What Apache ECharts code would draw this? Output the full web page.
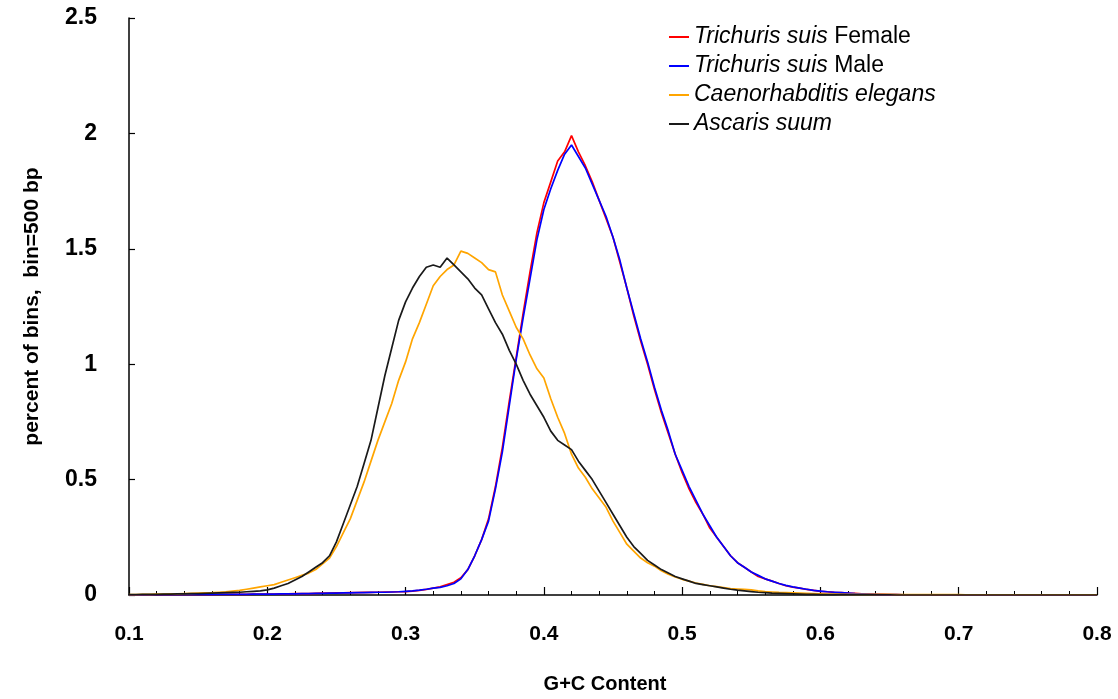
<!DOCTYPE html>
<html>
<head>
<meta charset="utf-8">
<script src="https://cdn.jsdelivr.net/npm/echarts@6/dist/echarts.min.js"></script>
<style>
html,body{margin:0;padding:0;background:#fff;}
#chart{width:1118px;height:699px;}
</style>
</head>
<body>
<div id="chart"></div>
<script>
// G+C content bins (bin start 0.1, width 0.005, 141 bins up to 0.8)
const binStart = 0.1;
const binStep = 0.005;
const binCount = 141;

const seriesNames = ['Trichuris suis Female', 'Trichuris suis Male', 'Caenorhabditis elegans', 'Ascaris suum'];
const xTicks = [0.1, 0.2, 0.3, 0.4, 0.5, 0.6, 0.7, 0.8];
const yTicks = [0, 0.5, 1, 1.5, 2, 2.5];

const tsFemale = [
  0,0,0,0.001,0.001,0.001,0.001,0.001,0.002,0.002,0.002,
  0.002,0.002,0.003,0.003,0.003,0.003,0.003,0.004,0.004,0.004,
  0.004,0.005,0.005,0.006,0.006,0.006,0.007,0.008,0.008,0.009,0.009,0.010,0.010,0.011,0.011,0.012,0.013,0.013,0.014,0.015,
  0.017,0.02,0.024,0.03,0.035,0.045,0.055,0.075,0.11,0.17,0.24,0.33,0.47,0.64,0.84,1.03,1.22,1.40,1.57,1.70,
  1.79,1.88,1.92,1.99,1.92,1.86,1.79,1.71,1.63,1.55,1.44,1.33,1.21,1.10,1.00,0.89,0.79,0.70,0.61,0.53,
  0.46,0.40,0.35,0.29,0.25,0.21,0.17,0.14,0.12,0.10,0.08,0.07,0.06,0.05,0.04,0.034,0.03,0.024,0.02,0.016,
  0.014,0.011,0.01,0.008,0.007,0.005,0.004,0.003,0.003,0.002,0.002,0.001,0.001,0.001,0.001,0.001,0,0,0,0,
  0,0,0,0,0,0,0,0,0,0,0,0,0,0,0,0,0,0,0,0
];
const tsMale = [
  0,0,0,0.001,0.001,0.001,0.001,0.001,0.002,0.002,0.002,
  0.002,0.002,0.003,0.003,0.003,0.003,0.003,0.004,0.004,0.004,
  0.004,0.005,0.005,0.005,0.006,0.006,0.007,0.007,0.008,0.008,0.009,0.009,0.010,0.010,0.011,0.012,0.012,0.013,0.014,0.016,
  0.018,0.021,0.025,0.03,0.033,0.04,0.05,0.07,0.11,0.17,0.24,0.32,0.46,0.62,0.82,1.02,1.20,1.37,1.54,1.67,
  1.76,1.84,1.91,1.95,1.90,1.85,1.78,1.71,1.64,1.55,1.45,1.33,1.22,1.11,1.01,0.90,0.80,0.71,0.61,0.54,
  0.47,0.41,0.35,0.30,0.25,0.21,0.17,0.14,0.12,0.10,0.085,0.07,0.06,0.05,0.042,0.035,0.03,0.025,0.02,0.017,
  0.014,0.012,0.01,0.008,0.006,0.005,0.004,0.003,0.002,0.002,0.002,0.001,0.001,0.001,0.001,0.001,0.001,0,0,0,
  0,0,0,0,0,0,0,0,0,0,0,0,0,0,0,0,0,0,0,0
];
const cElegans = [
  0.002,0.002,0.003,0.003,0.004,0.004,0.005,0.005,0.006,0.007,0.008,
  0.009,0.010,0.012,0.014,0.017,0.02,0.025,0.03,0.035,0.04,
  0.045,0.055,0.065,0.075,0.085,0.095,0.11,0.135,0.16,0.21,0.27,0.33,0.41,0.49,0.58,0.67,0.75,0.83,0.93,1.01,
  1.11,1.18,1.26,1.34,1.38,1.41,1.43,1.49,1.48,1.46,1.44,1.41,1.40,1.30,1.23,1.16,1.11,1.04,0.98,0.94,
  0.85,0.77,0.70,0.61,0.55,0.51,0.46,0.42,0.38,0.32,0.27,0.22,0.19,0.16,0.14,0.125,0.105,0.09,0.078,0.068,
  0.06,0.052,0.046,0.04,0.036,0.032,0.028,0.026,0.024,0.022,0.018,0.015,0.013,0.011,0.01,0.009,0.008,0.007,0.006,0.005,
  0.004,0.004,0.003,0.003,0.003,0.003,0.003,0.003,0.003,0.003,0.002,0.002,0.002,0.002,0.002,0.002,0.002,0.002,0.002,0.002,
  0.001,0.001,0.001,0.001,0.001,0.001,0.001,0.001,0.001,0.001,0.001,0.001,0.001,0.001,0.001,0.001,0.001,0.001,0.001,0.001
];
const aSuum = [
  0.002,0.002,0.003,0.003,0.003,0.004,0.004,0.005,0.005,0.006,0.006,
  0.007,0.008,0.009,0.010,0.011,0.012,0.014,0.016,0.018,0.022,
  0.03,0.04,0.05,0.065,0.08,0.10,0.12,0.14,0.17,0.23,0.31,0.39,0.47,0.57,0.67,0.81,0.95,1.07,1.19,1.27,
  1.33,1.38,1.42,1.43,1.42,1.46,1.43,1.40,1.37,1.33,1.30,1.24,1.18,1.13,1.06,1.00,0.93,0.87,0.82,0.77,
  0.71,0.67,0.65,0.63,0.58,0.54,0.50,0.45,0.40,0.35,0.30,0.25,0.21,0.18,0.15,0.13,0.11,0.095,0.08,0.07,
  0.06,0.05,0.045,0.04,0.035,0.03,0.025,0.021,0.018,0.015,0.012,0.01,0.008,0.007,0.006,0.005,0.004,0.003,0.003,0.002,
  0.002,0.002,0.002,0.001,0.001,0.001,0.001,0.001,0.001,0.001,0,0,0,0,0,0,0,0,0,0,
  0,0,0,0,0,0,0,0,0,0,0,0,0,0,0,0,0,0,0,0
];

const gcBins = [];
for (let i = 0; i < binCount; i++) gcBins.push(+(binStart + i * binStep).toFixed(3));

function pairs(vals) { return vals.map((v, i) => [gcBins[i], v]); }

const colors = ['#ff0000', '#0000ff', '#ffa500', '#1a1a1a'];
const valueSets = [tsFemale, tsMale, cElegans, aSuum];

const sans = "'Liberation Sans', Arial, sans-serif";

const chart = echarts.init(document.getElementById('chart'), null, {renderer: 'canvas'});
const option = {
  animation: false,
  backgroundColor: '#fff',
  grid: {left: 129, right: 21, top: 18, bottom: 100, containLabel: false},
  legend: {
    orient: 'vertical',
    left: 664,
    top: 20,
    icon: 'rect',
    itemWidth: 20,
    itemHeight: 2,
    itemGap: 5,
    data: seriesNames,
    formatter: function (name) {
      if (name.indexOf('Trichuris suis ') === 0) return '{i|Trichuris suis} ' + name.slice(15);
      return '{i|' + name + '}';
    },
    textStyle: {
      fontFamily: sans, fontSize: 23, color: '#000', lineHeight: 24,
      rich: {i: {fontStyle: 'italic', fontFamily: sans, fontSize: 23, color: '#000', lineHeight: 24}}
    }
  },
  xAxis: {
    type: 'value',
    min: 0.1, max: 0.8, interval: 0.1,
    name: 'G+C Content',
    nameLocation: 'middle',
    nameGap: 79,
    nameTextStyle: {fontFamily: sans, fontWeight: 'bold', fontSize: 20, color: '#000', padding: [0, 16, 0, 0]},
    axisLine: {show: true, onZero: false, lineStyle: {color: '#000', width: 1.5}},
    axisTick: {show: true, inside: true, length: 8, lineStyle: {color: '#000', width: 1.2}},
    minorTick: {show: true, splitNumber: 5, length: 4, lineStyle: {color: '#000', width: 1}},
    splitLine: {show: false},
    axisLabel: {
      margin: 29, fontFamily: sans, fontWeight: 'bold', fontSize: 21, color: '#000',
      formatter: function (v) { const r = Math.round(v * 10) / 10; return xTicks.indexOf(r) >= 0 ? String(r) : ''; }
    }
  },
  yAxis: {
    type: 'value',
    min: 0, max: 2.5, interval: 0.5,
    name: 'percent of bins,  bin=500 bp',
    nameLocation: 'middle',
    nameGap: 86,
    nameRotate: 90,
    nameTextStyle: {fontFamily: sans, fontWeight: 'bold', fontSize: 21, color: '#000'},
    axisLine: {show: true, lineStyle: {color: '#000', width: 1.5}},
    axisTick: {show: true, inside: true, length: 6, lineStyle: {color: '#000', width: 1.2}},
    splitLine: {show: false},
    axisLabel: {
      margin: 32, fontFamily: sans, fontWeight: 'bold', fontSize: 23, color: '#000',
      formatter: function (v) { const r = Math.round(v * 10) / 10; return yTicks.indexOf(r) >= 0 ? String(r) : ''; }
    }
  },
  series: seriesNames.map((n, k) => ({
    name: n,
    type: 'line',
    data: pairs(valueSets[k]),
    symbol: 'none',
    showSymbol: false,
    smooth: false,
    z: 2 + k,
    lineStyle: {color: colors[k], width: 1.7},
    itemStyle: {color: colors[k]},
    emphasis: {disabled: true}
  }))
};
chart.setOption(option);
</script>
</body>
</html>
